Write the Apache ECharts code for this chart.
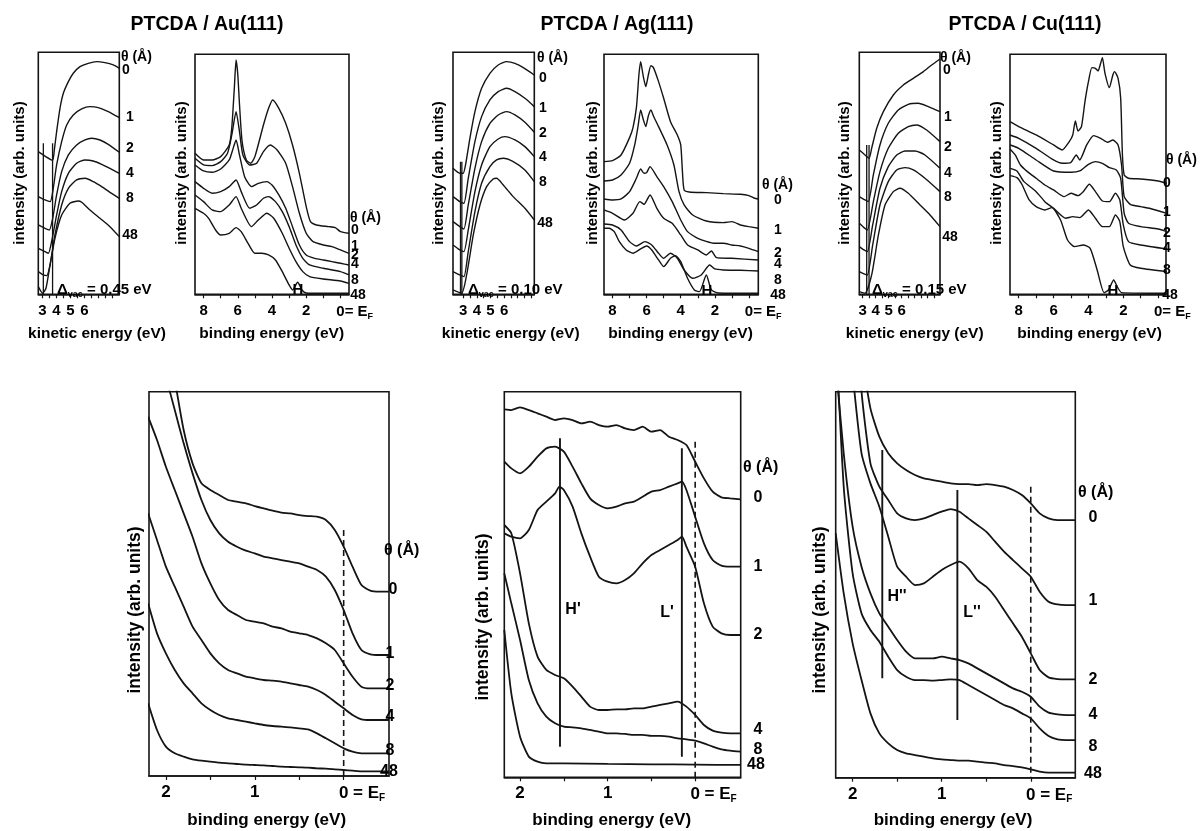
<!DOCTYPE html>
<html>
<head>
<meta charset="utf-8">
<title>PTCDA photoemission</title>
<script src="https://cdn.jsdelivr.net/npm/echarts@6.0.0/dist/echarts.min.js"></script>
<style>
html,body{margin:0;padding:0;background:#fff;}
#chart{width:1201px;height:831px;}
</style>
</head>
<body>
<div id="chart"></div>
<script>
// ---------------- labels / categories ----------------
const kinTickLabels = [3, 4, 5, 6];
const bindTickLabels = [8, 6, 4, 2, 0];
const bottomTickLabels = [2, 1, 0];
const thetaValues = ['0', '1', '2', '4', '8', '48'];
const substrates = ['Au(111)', 'Ag(111)', 'Cu(111)'];
const vacShifts = ['0.45', '0.10', '0.15'];

// ---------------- Au(111) top: secondary-electron cutoff (kinetic energy, intensity) ----------------
const auKin0 = [[2.70,42.8],[3.2,41.4],[3.72,40.2],[3.85,43.5],[4.01,48.8],[4.25,55.8],[4.49,60.3],[4.85,63.8],[5.2,66.3],[5.68,68.3],[6.27,69.3],[6.87,69.8],[7.46,69.5],[8.06,68.8],[8.49,67.8]];
const auKin1 = [[2.70,29.3],[3.18,28.3],[3.55,27.8],[3.77,31.8],[4.01,38.8],[4.37,45.8],[4.73,50.8],[5.2,53.8],[5.8,55.6],[6.39,56.3],[6.99,56.0],[7.58,55.0],[8.06,54.0],[8.49,53.0]];
const auKin2 = [[2.70,20.8],[3.18,19.8],[3.49,19.3],[3.73,22.8],[4.01,29.8],[4.37,36.8],[4.85,41.8],[5.44,44.8],[6.04,46.3],[6.51,46.8],[7.11,46.3],[7.70,45.0],[8.49,42.6]];
const auKin4 = [[2.70,13.8],[3.18,12.8],[3.42,12.3],[3.65,15.8],[4.01,23.8],[4.37,30.8],[4.85,36.3],[5.44,39.3],[6.04,40.3],[6.63,40.0],[7.23,39.0],[7.82,37.8],[8.49,36.3]];
const auKin8 = [[2.70,6.8],[3.06,5.8],[3.30,5.6],[3.54,8.8],[3.89,17.8],[4.37,26.8],[4.85,31.8],[5.44,34.3],[6.04,34.8],[6.63,33.8],[7.23,32.3],[7.82,30.6],[8.49,28.8]];
const auKin48 = [[2.70,2.3],[3.01,0.3],[3.25,1.8],[3.54,8.8],[3.89,16.8],[4.37,23.8],[4.96,27.3],[5.56,28.0],[5.80,27.6],[6.39,25.3],[7.11,22.8],[7.82,20.3],[8.49,17.3]];

// ---------------- Au(111) top: valence band (binding energy, intensity) ----------------
const auBind0 = [[8.5,42.3],[8.0,40.3],[7.5,40.3],[7.0,41.3],[6.5,44.8],[6.35,50],[6.2,62],[6.1,70.3],[6.0,66],[5.9,57],[5.75,46],[5.5,40.3],[5.25,39.3],[5.0,41.3],[4.5,50.8],[4.2,55.8],[3.96,58.3],[3.6,55.8],[3.2,51.3],[2.8,44.8],[2.4,36.3],[2.0,26.3],[1.75,21.8],[1.4,20.8],[0.7,20.3],[0.3,20.0],[0.0,18.8],[-0.5,18.3]];
const auBind1 = [[8.5,40.8],[8.0,38.8],[7.5,38.6],[7.0,39.8],[6.6,42.3],[6.35,47.8],[6.1,54.8],[5.9,48.8],[5.7,41.8],[5.3,38.8],[4.9,39.3],[4.5,42.8],[4.1,44.8],[3.7,43.3],[3.2,39.3],[2.8,32.3],[2.4,24.3],[2.0,18.3],[1.6,15.8],[1.0,14.8],[0.5,14.3],[0.0,13.3],[-0.5,12.3]];
const auBind2 = [[8.5,38.8],[8.0,37.0],[7.5,36.6],[7.0,37.6],[6.5,40.3],[6.3,43.3],[6.1,46.3],[5.9,41.8],[5.6,35.3],[5.2,32.3],[4.8,33.3],[4.3,33.8],[4.0,32.8],[3.6,29.8],[3.2,25.8],[2.8,20.3],[2.4,14.8],[2.0,11.8],[1.5,10.8],[1.0,10.3],[0.5,9.8],[0.0,9.3],[-0.5,8.8]];
const auBind4 = [[8.5,33.8],[8.0,31.8],[7.5,30.3],[7.0,30.8],[6.5,32.3],[6.1,34.3],[5.8,30.8],[5.3,25.8],[4.9,26.8],[4.5,28.8],[4.2,29.3],[3.8,27.8],[3.4,24.8],[3.0,20.3],[2.6,14.8],[2.2,10.8],[1.8,8.8],[1.0,7.8],[0.0,6.8],[-0.5,5.8]];
const auBind8 = [[8.5,29.8],[8.0,27.8],[7.5,25.3],[7.0,24.8],[6.5,26.8],[6.1,29.3],[5.8,25.8],[5.2,20.3],[4.8,22.3],[4.3,24.3],[3.9,22.8],[3.4,18.3],[3.0,13.8],[2.6,9.8],[2.2,6.8],[1.8,5.3],[1.0,4.6],[0.0,4.0],[-0.5,3.3]];
const auBind48 = [[8.5,25.8],[8.0,24.3],[7.7,22.8],[7.3,19.3],[7.0,17.8],[6.5,18.3],[6.1,20.0],[5.8,18.8],[5.4,15.3],[5.0,12.3],[4.6,12.3],[4.2,11.8],[3.8,10.3],[3.4,6.8],[3.0,2.8],[2.8,1.3],[2.5,3.6],[2.25,1.3],[2.0,0.4],[1.0,0.3],[-0.5,0.3]];

// ---------------- Ag(111) top ----------------
const agKin0 = [[2.25,37.8],[2.75,36.3],[3.0,36.3],[3.17,38.8],[3.49,46.8],[3.86,54.8],[4.35,61.8],[4.96,66.3],[5.57,68.8],[6.19,69.8],[6.8,69.3],[7.41,68.0],[8.22,65.8]];
const agKin1 = [[2.25,29.3],[2.75,27.8],[3.05,27.3],[3.37,34.8],[3.86,45.8],[4.35,53.3],[4.96,58.3],[5.57,60.8],[6.19,61.8],[6.8,60.8],[7.53,58.8],[8.22,56.3]];
const agKin2 = [[2.25,21.8],[2.75,20.3],[3.05,19.6],[3.37,26.8],[3.86,37.8],[4.35,45.8],[4.96,51.3],[5.57,53.8],[6.19,54.8],[6.8,53.8],[7.53,51.6],[8.22,48.6]];
const agKin4 = [[2.25,14.8],[2.75,13.3],[3.05,12.8],[3.37,19.3],[3.86,30.8],[4.35,38.8],[4.96,44.3],[5.57,46.6],[6.06,47.3],[6.8,46.3],[7.53,44.3],[8.22,41.3]];
const agKin8 = [[2.25,6.8],[2.75,5.8],[3.05,5.3],[3.37,12.8],[3.86,24.8],[4.35,33.3],[4.96,38.3],[5.45,40.3],[5.94,40.8],[6.67,39.8],[7.53,37.3],[8.22,33.8]];
const agKin48 = [[2.25,1.3],[2.88,0.3],[3.25,5.8],[3.74,17.8],[4.23,26.8],[4.72,32.3],[5.2,34.6],[5.45,34.8],[5.94,32.8],[6.67,29.3],[7.53,25.8],[8.22,22.3]];

const agBind0 = [[8.5,39.8],[8.0,40.1],[7.5,41.8],[7.0,47.0],[6.8,50.0],[6.6,56.0],[6.45,66.0],[6.35,69.8],[6.2,65.5],[6.05,62.3],[5.9,65.8],[5.75,68.6],[5.6,68.0],[5.3,63.8],[5.0,58.8],[4.6,51.8],[4.2,47.8],[4.0,44.8],[3.9,36.8],[3.8,31.3],[3.5,30.7],[2.5,30.5],[1.5,30.2],[0.5,30.0],[0.0,29.6],[-0.3,28.9],[-0.55,28.6]];
const agBind1 = [[8.5,34.0],[8.0,34.3],[7.5,35.8],[7.0,39.3],[6.7,44.8],[6.5,50.5],[6.35,55.3],[6.2,52.5],[6.05,50.3],[5.9,53.5],[5.75,55.3],[5.6,53.5],[5.3,50.3],[4.8,44.8],[4.4,38.8],[4.1,30.8],[3.8,26.8],[3.3,23.8],[2.5,22.0],[1.5,21.5],[1.0,21.8],[0.5,20.8],[0.0,20.3],[-0.55,19.8]];
const agBind2 = [[8.5,28.6],[8.0,28.3],[7.5,28.6],[7.0,30.8],[6.6,34.8],[6.35,37.6],[6.15,36.3],[6.0,36.5],[5.8,38.3],[5.4,35.3],[5.0,32.3],[4.5,27.8],[4.0,22.3],[3.6,18.8],[3.0,16.8],[2.0,15.3],[1.5,15.3],[1.0,14.8],[0.5,14.5],[0.0,13.8],[-0.55,12.8]];
const agBind4 = [[8.5,25.3],[8.0,24.3],[7.3,22.3],[6.8,24.3],[6.4,27.8],[6.15,27.0],[5.8,29.8],[5.4,25.8],[5.0,22.8],[4.5,21.3],[4.0,17.8],[3.6,14.8],[3.0,13.3],[2.5,11.8],[2.2,13.0],[1.9,11.0],[1.0,10.8],[-0.55,10.3]];
const agBind8 = [[8.5,21.1],[8.0,20.8],[7.5,19.3],[7.0,15.8],[6.6,14.5],[6.1,15.8],[5.7,14.8],[5.3,12.3],[5.0,10.8],[4.6,12.3],[4.2,10.8],[3.8,7.3],[3.3,4.8],[2.8,5.8],[2.3,8.8],[2.0,7.6],[1.5,7.3],[0.5,7.2],[-0.55,7.0]];
const agBind48 = [[8.5,19.8],[8.2,19.8],[7.9,18.8],[7.6,15.8],[7.2,13.3],[6.8,12.3],[6.3,13.8],[6.0,14.5],[5.7,13.3],[5.3,10.3],[5.0,8.3],[4.6,10.8],[4.3,11.6],[4.0,9.8],[3.6,4.8],[3.2,1.3],[2.9,0.8],[2.5,5.8],[2.2,1.3],[1.8,0.4],[-0.55,0.3]];

// ---------------- Cu(111) top ----------------
const cuKin0 = [[2.74,43.3],[3.18,41.8],[3.49,40.8],[3.69,43.8],[4.08,49.8],[4.59,54.8],[5.36,59.8],[6.13,62.8],[6.9,64.8],[7.67,66.8],[8.31,68.8],[8.95,70.6]];
const cuKin1 = [[2.74,29.3],[3.18,28.3],[3.44,27.8],[3.82,35.8],[4.33,44.8],[4.97,51.3],[5.74,55.3],[6.51,57.0],[7.28,57.3],[8.05,56.3],[8.95,54.8]];
const cuKin2 = [[2.74,21.3],[3.1,20.0],[3.36,19.3],[3.82,27.8],[4.33,36.8],[4.97,43.8],[5.74,48.3],[6.51,50.3],[7.15,50.8],[7.92,49.3],[8.95,45.8]];
const cuKin4 = [[2.74,14.3],[3.1,13.3],[3.36,12.8],[3.77,20.8],[4.33,31.8],[4.97,38.3],[5.62,41.8],[6.26,43.0],[7.03,43.0],[7.79,41.8],[8.95,37.8]];
const cuKin8 = [[2.74,6.8],[3.1,6.1],[3.36,5.8],[3.77,14.8],[4.33,26.8],[4.97,33.8],[5.62,37.3],[6.26,38.0],[6.9,37.3],[7.79,34.8],[8.95,30.8]];
const cuKin48 = [[2.74,0.8],[3.18,0.3],[3.69,5.8],[4.21,17.8],[4.72,26.8],[5.36,30.8],[5.87,31.8],[6.51,30.3],[7.41,26.8],[8.18,23.8],[8.95,20.3]];

const cuBind0 = [[8.5,51.8],[8.0,50.3],[7.0,47.8],[6.0,44.8],[5.5,43.3],[5.1,45.8],[4.9,47.8],[4.75,52.0],[4.6,49.0],[4.4,50.3],[4.2,57.8],[4.0,63.8],[3.8,68.0],[3.6,67.8],[3.45,67.0],[3.3,69.3],[3.2,71.0],[3.05,66.3],[2.8,62.0],[2.6,65.8],[2.5,66.8],[2.3,64.8],[2.15,58.8],[2.05,41.8],[1.95,35.8],[1.7,34.8],[1.0,34.6],[0.0,34.0],[-0.5,33.3]];
const cuBind1 = [[8.5,47.8],[8.0,46.8],[7.0,43.8],[6.0,40.3],[5.5,39.3],[5.0,39.6],[4.7,41.8],[4.5,40.3],[4.1,44.8],[3.7,47.6],[3.3,46.8],[2.9,45.6],[2.6,46.3],[2.3,44.8],[2.1,38.8],[1.95,29.3],[1.6,27.0],[1.0,26.3],[0.5,25.8],[-0.5,24.3]];
const cuBind2 = [[8.5,44.8],[8.0,43.8],[7.0,40.3],[6.0,37.0],[5.0,36.6],[4.5,37.0],[4.0,39.0],[3.6,39.8],[3.2,39.3],[2.8,38.0],[2.4,37.3],[2.15,34.8],[1.95,24.3],[1.7,21.3],[1.0,20.3],[0.0,19.6],[-0.5,18.8]];
const cuBind4 = [[8.5,43.6],[8.2,41.8],[7.9,38.8],[7.5,36.8],[7.0,34.8],[6.5,32.8],[6.0,31.3],[5.4,29.3],[5.0,30.3],[4.6,29.6],[4.3,30.8],[3.95,33.0],[3.6,30.8],[3.2,28.0],[2.8,27.8],[2.45,30.3],[2.2,28.3],[2.0,20.8],[1.7,15.8],[1.0,14.8],[-0.5,13.6]];
const cuBind8 = [[8.5,37.8],[8.1,37.0],[7.7,33.8],[7.0,30.8],[6.5,27.8],[6.0,25.8],[5.3,22.8],[4.9,23.3],[4.5,23.0],[4.0,25.3],[3.6,22.8],[3.2,20.3],[2.8,20.3],[2.45,23.8],[2.2,21.8],[2.0,14.3],[1.6,8.8],[1.0,7.8],[-0.5,6.8]];
const cuBind48 = [[8.5,35.6],[8.1,35.0],[7.8,32.8],[7.4,28.3],[7.0,26.3],[6.5,25.3],[6.1,26.0],[5.6,22.3],[5.2,16.3],[4.8,14.3],[4.3,14.8],[3.9,13.8],[3.5,7.3],[3.1,0.5],[2.85,1.3],[2.55,4.3],[2.35,2.3],[2.1,0.5],[-0.5,0.3]];

// ---------------- bottom row: near Fermi level (binding energy, intensity) ----------------
const auBot0 = [[1.9,119],[1.8,103.8],[1.7,93.8],[1.6,87.8],[1.5,85.8],[1.4,84.3],[1.3,82.8],[1.2,82.3],[1.1,81.8],[1.0,81.0],[0.9,80.3],[0.8,79.6],[0.7,79.0],[0.6,78.8],[0.5,78.3],[0.4,78.0],[0.3,77.8],[0.2,76.8],[0.1,73.8],[0.0,68.8],[-0.1,62.8],[-0.2,57.3],[-0.3,55.6],[-0.4,55.3],[-0.51,55.3]];
const auBot1 = [[2.0,119.8],[1.9,109.8],[1.8,99.8],[1.7,90.8],[1.6,82.8],[1.5,76.8],[1.4,72.8],[1.3,70.3],[1.2,68.8],[1.1,67.6],[1.0,66.8],[0.9,65.8],[0.8,65.3],[0.7,64.8],[0.6,64.3],[0.5,63.8],[0.4,62.8],[0.3,61.8],[0.2,59.8],[0.1,55.8],[0.0,49.8],[-0.1,42.8],[-0.2,37.8],[-0.3,36.5],[-0.4,36.3],[-0.51,36.3]];
const auBot2 = [[2.2,107.8],[2.1,100.8],[2.0,92.8],[1.9,85.8],[1.8,78.8],[1.7,71.8],[1.6,63.8],[1.5,57.8],[1.4,52.8],[1.3,49.8],[1.2,48.3],[1.1,46.8],[1.0,46.3],[0.9,45.8],[0.8,44.8],[0.7,44.3],[0.6,43.3],[0.5,42.8],[0.4,42.3],[0.3,41.3],[0.2,39.8],[0.1,37.8],[0.0,33.8],[-0.1,29.8],[-0.2,26.8],[-0.3,26.3],[-0.4,26.3],[-0.51,26.3]];
const auBot4 = [[2.2,78.8],[2.1,70.8],[2.0,62.8],[1.9,56.8],[1.8,50.8],[1.7,44.8],[1.6,40.8],[1.5,36.8],[1.4,33.8],[1.3,31.8],[1.2,30.8],[1.1,29.8],[1.0,29.3],[0.9,28.8],[0.8,28.6],[0.7,28.3],[0.6,27.8],[0.5,27.3],[0.4,26.8],[0.3,25.8],[0.2,24.3],[0.1,22.3],[0.0,20.3],[-0.1,18.3],[-0.2,17.0],[-0.3,16.8],[-0.4,16.8],[-0.51,16.8]];
const auBot8 = [[2.2,51.8],[2.1,42.8],[2.0,36.8],[1.9,31.8],[1.8,27.8],[1.7,24.8],[1.6,21.8],[1.5,19.8],[1.4,18.3],[1.3,17.3],[1.2,16.8],[1.1,16.3],[1.0,15.8],[0.9,15.3],[0.8,15.0],[0.7,14.8],[0.6,14.6],[0.5,14.3],[0.4,14.0],[0.3,12.8],[0.2,11.3],[0.1,9.8],[0.0,8.3],[-0.1,7.3],[-0.2,6.8],[-0.3,6.8],[-0.4,6.8],[-0.51,6.8]];
const auBot48 = [[2.2,21.8],[2.1,13.8],[2.0,8.8],[1.9,6.8],[1.8,5.8],[1.7,5.0],[1.6,4.6],[1.5,4.3],[1.4,4.0],[1.3,3.8],[1.2,3.6],[1.1,3.4],[1.0,3.3],[0.9,3.2],[0.8,3.0],[0.7,2.8],[0.6,2.7],[0.5,2.6],[0.4,2.5],[0.3,2.3],[0.2,2.2],[0.1,2.0],[0.0,1.8],[-0.1,1.6],[-0.2,1.4],[-0.51,1.4]];

const agBot0 = [[2.18,110.4],[2.1,110.2],[2.0,111.0],[1.9,110.2],[1.8,109.2],[1.7,108.2],[1.6,107.2],[1.5,107.7],[1.4,107.2],[1.3,106.2],[1.2,106.7],[1.1,105.7],[1.0,105.2],[0.9,105.7],[0.8,104.7],[0.7,104.2],[0.6,105.2],[0.5,103.7],[0.4,104.2],[0.3,102.2],[0.2,101.2],[0.1,99.7],[0.0,94.7],[-0.1,89.7],[-0.2,85.7],[-0.3,84.0],[-0.4,83.7],[-0.52,83.4]];
const agBot1 = [[2.18,94.7],[2.1,92.7],[2.0,91.2],[1.9,93.2],[1.8,96.2],[1.7,98.7],[1.6,99.2],[1.5,97.7],[1.4,93.2],[1.3,88.2],[1.2,83.7],[1.1,81.7],[1.0,80.7],[0.9,81.2],[0.8,82.2],[0.7,82.7],[0.6,84.2],[0.5,85.7],[0.4,86.2],[0.3,87.2],[0.2,88.2],[0.15,88.7],[0.1,86.2],[0.0,78.2],[-0.1,70.2],[-0.2,65.2],[-0.3,63.5],[-0.4,63.2],[-0.52,63.2]];
const agBot2 = [[2.18,73.2],[2.1,72.2],[2.0,71.7],[1.9,74.2],[1.8,80.2],[1.7,82.7],[1.6,85.2],[1.55,87.2],[1.5,86.2],[1.4,81.2],[1.3,73.2],[1.2,66.2],[1.1,60.2],[1.0,58.7],[0.9,58.2],[0.8,59.2],[0.7,61.2],[0.6,64.2],[0.5,66.7],[0.4,68.2],[0.3,69.7],[0.2,71.2],[0.15,72.2],[0.1,69.2],[0.0,63.2],[-0.1,52.2],[-0.2,45.2],[-0.3,43.2],[-0.4,42.7],[-0.52,42.7]];
const agBot4 = [[2.18,75.7],[2.1,73.2],[2.0,61.2],[1.9,46.2],[1.8,36.2],[1.7,32.2],[1.6,30.7],[1.5,29.7],[1.4,27.2],[1.3,24.2],[1.2,21.2],[1.1,20.2],[1.0,20.2],[0.9,20.4],[0.8,20.4],[0.7,20.7],[0.6,20.7],[0.5,21.2],[0.4,21.7],[0.3,22.2],[0.2,22.7],[0.1,21.2],[0.0,18.7],[-0.1,15.7],[-0.2,14.0],[-0.3,13.4],[-0.4,13.2],[-0.52,13.2]];
const agBot8 = [[2.18,61.2],[2.1,52.2],[2.0,41.2],[1.9,29.2],[1.8,22.2],[1.7,18.2],[1.6,16.2],[1.5,15.2],[1.4,15.0],[1.3,14.7],[1.2,14.2],[1.1,13.7],[1.0,13.2],[0.9,13.2],[0.8,13.0],[0.7,12.7],[0.6,12.7],[0.5,12.4],[0.4,12.4],[0.3,12.2],[0.2,11.7],[0.1,11.4],[0.0,11.0],[-0.1,10.2],[-0.2,9.2],[-0.3,8.4],[-0.4,8.0],[-0.52,7.7]];
const agBot48 = [[2.18,44.2],[2.1,25.2],[2.0,12.2],[1.9,6.2],[1.8,4.7],[1.7,4.2],[1.5,4.2],[1.0,4.0],[0.5,3.9],[0.0,3.8],[-0.52,3.7]];

const cuBot0 = [[1.9,127.3],[1.8,110.8],[1.7,102.3],[1.6,97.3],[1.5,94.3],[1.4,92.3],[1.3,90.8],[1.2,89.8],[1.1,89.3],[1.0,88.8],[0.9,88.3],[0.8,88.1],[0.7,88.1],[0.6,87.8],[0.5,88.1],[0.4,87.8],[0.3,87.3],[0.2,86.3],[0.1,84.8],[0.0,82.3],[-0.1,79.3],[-0.2,77.8],[-0.3,77.3],[-0.5,77.3]];
const cuBot1 = [[2.0,157.3],[1.9,115.8],[1.8,94.3],[1.7,87.3],[1.6,83.3],[1.5,79.3],[1.4,77.8],[1.3,77.3],[1.2,77.8],[1.1,78.8],[1.0,79.8],[0.9,80.6],[0.8,79.8],[0.7,77.8],[0.6,75.8],[0.5,73.8],[0.4,70.8],[0.3,67.8],[0.2,65.3],[0.1,62.8],[0.0,60.3],[-0.1,55.8],[-0.2,52.8],[-0.3,52.0],[-0.4,51.8],[-0.5,51.8]];
const cuBot2 = [[2.0,121.3],[1.9,97.3],[1.8,88.3],[1.7,81.3],[1.6,72.3],[1.5,63.3],[1.4,60.3],[1.3,57.8],[1.2,58.3],[1.1,60.3],[1.0,62.3],[0.9,63.8],[0.8,64.8],[0.7,62.8],[0.6,59.3],[0.5,57.3],[0.4,54.3],[0.3,50.3],[0.2,46.3],[0.1,42.3],[0.0,37.3],[-0.1,32.3],[-0.2,30.1],[-0.3,29.6],[-0.4,29.5],[-0.5,29.5]];
const cuBot4 = [[2.2,127.3],[2.1,97.3],[2.0,75.3],[1.9,63.3],[1.8,55.3],[1.7,49.3],[1.6,45.3],[1.5,41.3],[1.4,37.8],[1.3,35.8],[1.2,35.8],[1.1,35.8],[1.0,36.3],[0.9,35.8],[0.8,35.3],[0.7,34.3],[0.6,32.8],[0.5,31.3],[0.4,29.8],[0.3,28.3],[0.2,26.8],[0.1,25.8],[0.0,24.3],[-0.1,21.3],[-0.2,19.5],[-0.3,19.0],[-0.4,18.8],[-0.5,18.8]];
const cuBot8 = [[2.2,140],[2.1,87.3],[2.0,61.3],[1.9,49.3],[1.8,44.3],[1.7,40.8],[1.6,36.3],[1.5,32.3],[1.4,30.3],[1.3,29.3],[1.2,29.3],[1.1,29.1],[1.0,29.3],[0.9,29.5],[0.8,29.3],[0.7,27.8],[0.6,26.3],[0.5,24.8],[0.4,23.3],[0.3,21.8],[0.2,20.8],[0.1,19.3],[0.0,17.8],[-0.1,14.8],[-0.2,12.5],[-0.3,11.5],[-0.4,11.3],[-0.5,11.3]];
const cuBot48 = [[2.19,73.3],[2.1,55.3],[2.0,40.3],[1.9,29.3],[1.8,19.3],[1.7,13.3],[1.6,10.3],[1.5,8.3],[1.4,7.3],[1.3,6.8],[1.2,6.3],[1.1,5.8],[1.0,5.5],[0.9,5.3],[0.8,5.1],[0.7,5.1],[0.6,4.8],[0.5,4.5],[0.4,4.3],[0.3,3.8],[0.2,3.5],[0.1,3.1],[0.0,2.5],[-0.1,1.8],[-0.2,1.5],[-0.5,1.5]];

// ---------------- marker lines (energy, intensity span) ----------------
const auKinVac = [3.06, 3.72];
const agKinVac = [2.80, 2.90];
const cuKinVac = [3.31, 3.49];
const kinVacTop = [45.3, 39.8, 44.8];
const auBotFermi = [[0, 73.8], [0, 0]];
const agBotFermi = [[0, 100.7], [0, 0]];
const cuBotFermi = [[0, 87.3], [0, 0]];
const agBotH = [[1.544, 101.7], [1.544, 9.2]];
const agBotL = [[0.152, 98.7], [0.152, 6.2]];
const cuBotH = [[1.667, 98.3], [1.667, 29.8]];
const cuBotL = [[0.824, 86.3], [0.824, 17.3]];

// ---------------- build chart ----------------
const FONT = "'Liberation Sans', Arial, Helvetica, sans-serif";
const INK = '#141414';
function steps(a, b, s) { const r = []; for (let v = a; v <= b + 1e-9; v += s) r.push(+v.toFixed(2)); return r; }

const panels = [
  { g: [38.3, 52.3, 81, 242],     x: [2.70, 8.49],  inv: false, ymax: 72.6, ticks: steps(3, 8, 0.5),  labels: kinTickLabels,    curves: [auKin0, auKin1, auKin2, auKin4, auKin8, auKin48], lw: 1.4, fs: 15, zero: null },
  { g: [195, 54.3, 154, 240],     x: [-0.5, 8.5],   inv: true,  ymax: 72,   ticks: steps(0, 8, 1),    labels: bindTickLabels,   curves: [auBind0, auBind1, auBind2, auBind4, auBind8, auBind48], lw: 1.4, fs: 15, zero: 'top' },
  { g: [453, 52.3, 81.3, 242],    x: [2.25, 8.22],  inv: false, ymax: 72.6, ticks: steps(3, 8, 0.5),  labels: kinTickLabels,    curves: [agKin0, agKin1, agKin2, agKin4, agKin8, agKin48], lw: 1.4, fs: 15, zero: null },
  { g: [604, 54.3, 154.3, 240],   x: [-0.55, 8.5],  inv: true,  ymax: 72,   ticks: steps(0, 8, 1),    labels: bindTickLabels,   curves: [agBind0, agBind1, agBind2, agBind4, agBind8, agBind48], lw: 1.4, fs: 15, zero: 'top' },
  { g: [859.3, 52.3, 80.7, 242],  x: [2.74, 8.95],  inv: false, ymax: 72.6, ticks: steps(3, 8.5, 0.5), labels: kinTickLabels,   curves: [cuKin0, cuKin1, cuKin2, cuKin4, cuKin8, cuKin48], lw: 1.4, fs: 15, zero: null },
  { g: [1010, 54.3, 156, 240],    x: [-0.45, 8.5],  inv: true,  ymax: 72,   ticks: steps(0, 8, 1),    labels: bindTickLabels,   curves: [cuBind0, cuBind1, cuBind2, cuBind4, cuBind8, cuBind48], lw: 1.4, fs: 15, zero: 'top' },
  { g: [149, 391.7, 240, 384.3],  x: [-0.51, 2.19], inv: true,  ymax: 115.3, ticks: steps(0, 2, 0.5), labels: bottomTickLabels, curves: [auBot0, auBot1, auBot2, auBot4, auBot8, auBot48], lw: 1.8, fs: 17, zero: 'bottom' },
  { g: [504.3, 391.7, 236.4, 385.6], x: [-0.52, 2.18], inv: true, ymax: 115.7, ticks: steps(0, 2, 0.5), labels: bottomTickLabels, curves: [agBot0, agBot1, agBot2, agBot4, agBot8, agBot48], lw: 1.8, fs: 17, zero: 'bottom' },
  { g: [835.7, 391.7, 239.6, 386], x: [-0.50, 2.19], inv: true, ymax: 115.8, ticks: steps(0, 2, 0.5), labels: bottomTickLabels, curves: [cuBot0, cuBot1, cuBot2, cuBot4, cuBot8, cuBot48], lw: 1.8, fs: 17, zero: 'bottom' }
];

const grids = [], xAxes = [], yAxes = [], series = [];
panels.forEach((p, i) => {
  grids.push({ left: p.g[0], top: p.g[1], width: p.g[2], height: p.g[3], show: true, borderColor: INK, borderWidth: 1.6, backgroundColor: 'transparent' });
  const bottom = p.zero === 'bottom';
  const rich = {
    t: { fontSize: p.fs, fontWeight: 'bold', color: '#000', fontFamily: FONT },
    f: { fontSize: bottom ? 10 : 9, fontWeight: 'bold', color: '#000', fontFamily: FONT, padding: [9, 0, 0, 0] },
    p: { width: bottom ? 36.7 : 28.5, fontSize: p.fs }
  };
  xAxes.push({
    gridIndex: i, type: 'value', min: p.x[0], max: p.x[1], inverse: p.inv,
    axisLine: { show: true, onZero: false, lineStyle: { color: INK, width: 1.6 } },
    axisTick: { show: true, inside: false, length: 4, customValues: p.ticks, lineStyle: { color: INK, width: 1.2 } },
    axisLabel: {
      show: true, customValues: p.labels, margin: bottom ? 8 : 9,
      formatter: v => (v === 0 && p.zero) ? (bottom ? '{p| }{t|0 = E}{f|F}' : '{p| }{t|0= E}{f|F}') : '{t|' + v + '}',
      rich: rich
    },
    splitLine: { show: false }
  });
  yAxes.push({ gridIndex: i, type: 'value', min: 0, max: p.ymax, show: false, splitLine: { show: false } });
  p.curves.forEach(c => series.push({
    type: 'line', xAxisIndex: i, yAxisIndex: i, data: c, showSymbol: false, symbol: 'none',
    smooth: 0.2, clip: true, silent: true, z: 3,
    lineStyle: { color: INK, width: p.lw }
  }));
});

function marker(gi, data, dashed, w) {
  series.push({
    type: 'line', xAxisIndex: gi, yAxisIndex: gi, data: data, showSymbol: false, symbol: 'none',
    silent: true, clip: true, z: 4,
    lineStyle: { color: INK, width: w || 1.5, type: dashed ? [6, 4] : 'solid' }
  });
}
[[0, auKinVac], [2, agKinVac], [4, cuKinVac]].forEach(([gi, vals], k) => {
  vals.forEach(e => marker(gi, [[e, 0], [e, kinVacTop[k]]], false, 1.3));
});
marker(6, auBotFermi, true, 1.6);
marker(7, agBotFermi, true, 1.6);
marker(8, cuBotFermi, true, 1.6);
marker(7, agBotH, false, 1.9);
marker(7, agBotL, false, 1.9);
marker(8, cuBotH, false, 1.9);
marker(8, cuBotL, false, 1.9);

// ---------------- text annotations ----------------
const G = [];
function T(x, y, text, size, align, extra) {
  const a = align || 'center';
  G.push(Object.assign({
    type: 'text', x: x, y: y, silent: true, z: 10,
    style: { text: text, fill: '#000', font: 'bold ' + size + 'px ' + FONT, align: a, verticalAlign: 'middle', textAlign: a, textVerticalAlign: 'middle' }
  }, extra || {}));
}
// titles
T(207, 25, 'PTCDA / ' + substrates[0], 19.5);
T(617, 25, 'PTCDA / ' + substrates[1], 19.5);
T(1025, 25, 'PTCDA / ' + substrates[2], 19.5);
// top axis titles
[[97, 271.7], [510.7, 680.5], [914.7, 1089.5]].forEach(([a, b]) => {
  T(a, 334, 'kinetic energy (eV)', 15.5);
  T(b, 334, 'binding energy (eV)', 15.5);
});
[20, 181.7, 439.3, 592.7, 845, 996.7].forEach(x => T(x, 173, 'intensity (arb. units)', 15, 'center', { rotation: Math.PI / 2 }));
// bottom axis titles
[[266.7, 135, 610], [611.7, 483.3, 617], [953, 820, 610]].forEach(([bx, ix, iy]) => {
  T(bx, 820, 'binding energy (eV)', 17);
  T(ix, iy, 'intensity (arb. units)', 17.5, 'center', { rotation: Math.PI / 2 });
});
// theta labels
const thetaBlocks = [
  { hx: 121, hy: 57, fs: 14, pts: [[126, 70], [130, 117], [130, 148], [130, 173], [130, 198], [130, 235]] },
  { hx: 350, hy: 218, fs: 14, pts: [[355, 230], [355, 246.5], [355, 255.5], [355, 264.5], [355, 280], [358, 295]] },
  { hx: 537, hy: 58, fs: 14, pts: [[543, 78], [543, 108], [543, 133], [543, 157], [543, 182], [545, 223]] },
  { hx: 762, hy: 185, fs: 14, pts: [[778, 200], [778, 230], [778, 253], [778, 264.5], [778, 280], [778, 295]] },
  { hx: 940, hy: 58, fs: 14, pts: [[947, 70], [948, 117], [948, 147], [948, 173], [948, 197], [950, 237]] },
  { hx: 1166, hy: 160, fs: 14, pts: [[1167, 183], [1167, 212], [1167, 233], [1167, 248], [1167, 270], [1170, 295]] },
  { hx: 384, hy: 551, fs: 16, pts: [[393, 590], [390, 654], [390, 686], [390, 717], [390, 751], [389, 772]] },
  { hx: 743, hy: 468, fs: 16, pts: [[758, 498], [758, 567], [758, 635], [758, 730], [758, 750], [756, 765]] },
  { hx: 1078, hy: 493, fs: 16, pts: [[1093, 518], [1093, 601], [1093, 680], [1093, 715], [1093, 747], [1093, 774]] }
];
thetaBlocks.forEach(b => {
  T(b.hx, b.hy, 'θ (Å)', b.fs, 'left');
  b.pts.forEach((pt, k) => T(pt[0], pt[1], thetaValues[k], b.fs));
});
// vacuum-level shift labels
[[57, 290], [468, 290], [872, 290]].forEach(([x, y], k) => {
  G.push({
    type: 'text', x: x, y: y, silent: true, z: 10,
    style: {
      text: '{d|Δ}{s|vac}{n| = ' + vacShifts[k] + ' eV}', align: 'left', verticalAlign: 'middle', textAlign: 'left', textVerticalAlign: 'middle',
      rich: {
        d: { fontSize: 15, fontWeight: 'bold', fontFamily: FONT, fill: '#000', color: '#000' },
        s: { fontSize: 9, fontWeight: 'bold', fontFamily: FONT, fill: '#000', color: '#000', padding: [9, 0, 0, 0] },
        n: { fontSize: 15, fontWeight: 'bold', fontFamily: FONT, fill: '#000', color: '#000' }
      }
    }
  });
});
// peak labels
T(298, 290, 'H', 15); T(707, 291, 'H', 15); T(1113, 291, 'H', 15);
T(573, 610, "H'", 16); T(667, 613, "L'", 16);
T(897, 597, "H''", 16); T(972, 613, "L''", 16);

const chart = echarts.init(document.getElementById('chart'), null, { renderer: 'canvas', width: 1201, height: 831 });
chart.setOption({
  backgroundColor: '#ffffff',
  animation: false,
  grid: grids, xAxis: xAxes, yAxis: yAxes, series: series,
  graphic: { elements: G }
});
</script>
</body>
</html>
